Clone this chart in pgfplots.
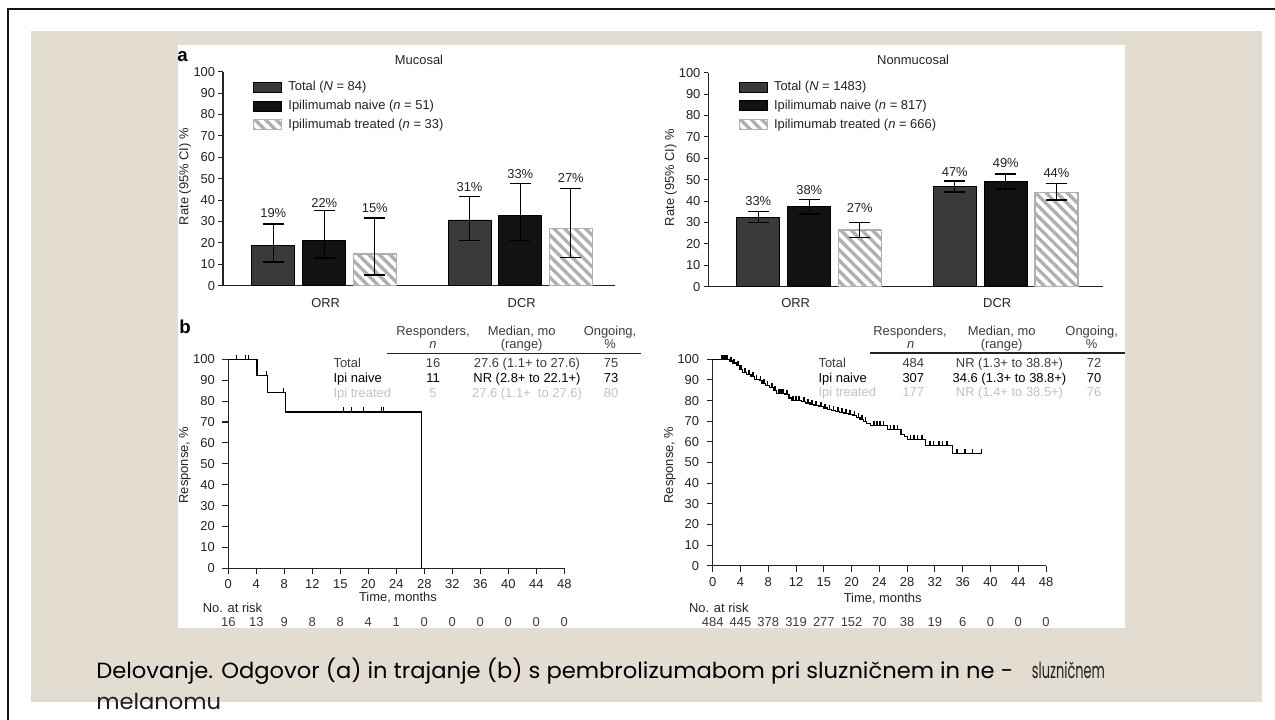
\documentclass[border=0pt]{standalone}
\usepackage{fontspec}
\setmainfont{Liberation Sans}
\newfontfamily\capfont{Poppins}
\usepackage{pgfplots}
\pgfplotsset{compat=1.18}
\usetikzlibrary{patterns.meta}
\definecolor{beige}{RGB}{226,220,209}
\definecolor{tot}{RGB}{58,58,58}
\definecolor{nai}{RGB}{18,18,18}
\definecolor{hatchc}{RGB}{175,175,175}
\definecolor{txt}{RGB}{35,35,35}
\definecolor{hdr}{RGB}{60,60,60}
\definecolor{tgray}{RGB}{195,195,195}
\newcommand{\fs}{\fontsize{9.7}{11.5}\selectfont}
\pgfplotsset{
  hatched/.style={fill=white, draw=hatchc, line width=0.9pt,
     postaction={pattern={Lines[angle=-45,distance=5.6pt,line width=2.5pt]}, pattern color=hatchc}},
  errst/.style={error bars/.cd, y dir=both, y explicit,
     error bar style={line width=1pt, black},
     error mark options={rotate=90, mark size=8pt, line width=1pt, black}},
  barbase/.style={
    scale only axis, height=160.5pt, xmin=0, ymin=0, ymax=100,
    axis x line*=bottom, axis y line*=left,
    axis line style={-, line width=0.8pt, color=txt},
    ytick={0,10,...,100}, xtick=\empty,
    tick align=outside, major tick length=3.5pt,
    y tick style={line width=0.8pt, color=txt},
    tick label style={font=\fs, text=txt},
    yticklabel style={inner sep=0pt, xshift=-2.2pt},
    /pgf/number format/assume math mode=true,
    clip=false,
    legend cell align=left,
    legend style={draw=none, fill=none, inner sep=0pt, anchor=north west, font=\fs,
       row sep=4.8pt, nodes={inner sep=0.4pt, text=txt}},
    legend image code/.code={\draw[##1] (0pt,-3.75pt) rectangle (21pt,3.75pt); \path (25.3pt,0pt);},
    ylabel style={anchor=center, font=\fs, text=txt},
  },
  kmbase/.style={
    scale only axis, xmin=0, xmax=48, ymin=0, ymax=100,
    axis x line*=bottom, axis y line*=left,
    axis line style={-, line width=0.8pt, color=txt},
    xtick={0,4,...,48}, xticklabels={0,4,8,12,15,20,24,28,32,36,40,44,48},
    ytick={0,10,...,100},
    tick align=outside, major tick length=4.5pt,
    tick style={line width=0.8pt, color=txt},
    tick label style={font=\fs, text=txt},
    yticklabel style={inner sep=0pt, xshift=-5.5pt},
    xticklabel style={inner sep=0pt, yshift=-4pt},
    /pgf/number format/assume math mode=true,
    clip=false,
    ylabel style={anchor=center, font=\fs, text=txt},
    xlabel style={anchor=center, font=\fs, text=txt},
  },
}
\newsavebox\capbox
\begin{document}
\sbox\capbox{\capfont\fontsize{16.5}{20}\selectfont Delovanje. Odgovor (a) in trajanje (b) s pembrolizumabom pri sluzničnem in ne -}%
\pgfmathsetmacro\capfac{687.75pt/\wd\capbox}%
\begin{tikzpicture}
\useasboundingbox (0,0) rectangle (956.25pt,540pt);
% ---------- background (pixel coordinates, y downwards)
\begin{scope}[x=0.75pt,y=-0.75pt,yshift=540pt]
  \fill[white] (0,0) rectangle (1275,720);
  \draw[line width=1.9pt, black!92] (8,730) -- (8,9) -- (1290,9);
  \fill[beige] (31,31.5) rectangle (1262,702);
  \fill[white] (178,45.5) rectangle (1125,628);
\end{scope}

% ---------- a: Mucosal
\begin{axis}[barbase, at={(167.25pt,325.725pt)}, anchor=south west, width=294pt, xmax=392,
  ylabel={Rate (95\% CI) \%}, ylabel style={at={(axis description cs:-0.097,0.51)}},
  legend style={at={(axis description cs:0.0758,0.958)}}]
\addlegendimage{fill=tot, draw=black, line width=0.6pt}
\addlegendentry{Total (\textit{N} = 84)}
\addlegendimage{fill=nai, draw=black, line width=0.6pt}
\addlegendentry{Ipilimumab naive (\textit{n} = 51)}
\addlegendimage{hatched}
\addlegendentry{Ipilimumab treated (\textit{n} = 33)}
\addplot[ybar, bar width=43, bar shift=0pt, fill=tot, draw=black, line width=0.6pt, forget plot, errst]
  coordinates {(50.3,18.7) += (0,10.1) -= (0,7.6) (246.5,30.7) += (0,10.9) -= (0,9.7)};
\addplot[ybar, bar width=43, bar shift=0pt, fill=nai, draw=black, line width=0.6pt, forget plot, errst]
  coordinates {(101.3,21.3) += (0,13.7) -= (0,8.3) (297.3,33.0) += (0,14.8) -= (0,12.0)};
\addplot[ybar, bar width=43, bar shift=0pt, hatched, forget plot, errst]
  coordinates {(151.8,14.8) += (0,16.8) -= (0,9.8) (347.8,26.9) += (0,18.6) -= (0,13.7)};
\node[font=\fs, text=txt] at (axis cs:50.3,33.8) {19\%};
\node[font=\fs, text=txt] at (axis cs:101.3,38.5) {22\%};
\node[font=\fs, text=txt] at (axis cs:151.8,36.1) {15\%};
\node[font=\fs, text=txt] at (axis cs:246.5,46.3) {31\%};
\node[font=\fs, text=txt] at (axis cs:297.3,52) {33\%};
\node[font=\fs, text=txt] at (axis cs:347.8,50.2) {27\%};
\node[font=\fs, text=txt] at ([yshift=-13.2pt]axis cs:102.7,0) {ORR};
\node[font=\fs, text=txt] at ([yshift=-13.2pt]axis cs:298.7,0) {DCR};
\node[font=\fs, text=txt] at (rel axis cs:0.5,1.055) {Mucosal};
\end{axis}

% ---------- a: Nonmucosal
\begin{axis}[barbase, at={(531.225pt,325.0pt)}, anchor=south west, width=296pt, xmax=394.7,
  ylabel={Rate (95\% CI) \%}, ylabel style={at={(axis description cs:-0.095,0.51)}},
  legend style={at={(axis description cs:0.076,0.963)}}]
\addlegendimage{fill=tot, draw=black, line width=0.6pt}
\addlegendentry{Total (\textit{N} = 1483)}
\addlegendimage{fill=nai, draw=black, line width=0.6pt}
\addlegendentry{Ipilimumab naive (\textit{n} = 817)}
\addlegendimage{hatched}
\addlegendentry{Ipilimumab treated (\textit{n} = 666)}
\addplot[ybar, bar width=43, bar shift=0pt, fill=tot, draw=black, line width=0.6pt, forget plot, errst]
  coordinates {(50,32.4) += (0,2.6) -= (0,2.3) (246.5,46.7) += (0,2.7) -= (0,2.5)};
\addplot[ybar, bar width=43, bar shift=0pt, fill=nai, draw=black, line width=0.6pt, forget plot, errst]
  coordinates {(101,37.4) += (0,3.4) -= (0,3.4) (297.5,49.1) += (0,3.5) -= (0,3.5)};
\addplot[ybar, bar width=43, bar shift=0pt, hatched, forget plot, errst]
  coordinates {(151.5,26.5) += (0,3.6) -= (0,3.5) (348.2,43.9) += (0,4.2) -= (0,3.4)};
\node[font=\fs, text=txt] at (axis cs:50,40.2) {33\%};
\node[font=\fs, text=txt] at (axis cs:101,45.2) {38\%};
\node[font=\fs, text=txt] at (axis cs:151.5,36.6) {27\%};
\node[font=\fs, text=txt] at (axis cs:246.5,53.7) {47\%};
\node[font=\fs, text=txt] at (axis cs:297.5,57.6) {49\%};
\node[font=\fs, text=txt] at (axis cs:348.2,53) {44\%};
\node[font=\fs, text=txt] at ([yshift=-12.5pt]axis cs:87.4,0) {ORR};
\node[font=\fs, text=txt] at ([yshift=-12.5pt]axis cs:288.9,0) {DCR};
\node[font=\fs, text=txt] at (rel axis cs:0.519,1.06) {Nonmucosal};
\end{axis}

% ---------- b: Mucosal KM
\begin{axis}[kmbase, at={(171.225pt,113.775pt)}, anchor=south west, width=252pt, height=156.75pt,
  ylabel={Response, \%}, ylabel style={at={(axis description cs:-0.129,0.494)}},
  xlabel={Time, months}, xlabel style={at={(axis description cs:0.505,0)}, yshift=-22pt}]
\addplot[const plot, black, line width=0.9pt] coordinates {
  (0,100) (4.1,92.3) (5.6,84.0) (8.2,74.8) (27.6,0)};
\addplot[only marks, mark=|, mark size=1.7pt, mark options={line width=0.9pt, yshift=1.7pt, black}] coordinates {
  (1.2,100) (2.4,100) (2.9,100) (5.5,92.3) (7.9,84.0) (16.4,74.8) (17.6,74.8) (19.3,74.8) (21.9,74.8) (22.2,74.8)};
\node[font=\fs, text=txt, anchor=west] at ([yshift=-29.8pt]axis description cs:-0.09,0) {No. at risk};
\node[font=\fs, text=hdr] at ([yshift=-40.3pt]axis cs:0,0) {16};
\node[font=\fs, text=hdr] at ([yshift=-40.3pt]axis cs:4,0) {13};
\node[font=\fs, text=hdr] at ([yshift=-40.3pt]axis cs:8,0) {9};
\node[font=\fs, text=hdr] at ([yshift=-40.3pt]axis cs:12,0) {8};
\node[font=\fs, text=hdr] at ([yshift=-40.3pt]axis cs:16,0) {8};
\node[font=\fs, text=hdr] at ([yshift=-40.3pt]axis cs:20,0) {4};
\node[font=\fs, text=hdr] at ([yshift=-40.3pt]axis cs:24,0) {1};
\node[font=\fs, text=hdr] at ([yshift=-40.3pt]axis cs:28,0) {0};
\node[font=\fs, text=hdr] at ([yshift=-40.3pt]axis cs:32,0) {0};
\node[font=\fs, text=hdr] at ([yshift=-40.3pt]axis cs:36,0) {0};
\node[font=\fs, text=hdr] at ([yshift=-40.3pt]axis cs:40,0) {0};
\node[font=\fs, text=hdr] at ([yshift=-40.3pt]axis cs:44,0) {0};
\node[font=\fs, text=hdr] at ([yshift=-40.3pt]axis cs:48,0) {0};
\end{axis}

% ---------- b: Nonmucosal KM
\begin{axis}[kmbase, at={(534.525pt,115.725pt)}, anchor=south west, width=250pt, height=154.8pt,
  ylabel={Response, \%}, ylabel style={at={(axis description cs:-0.128,0.488)}},
  xlabel={Time, months}, xlabel style={at={(axis description cs:0.51,0)}, yshift=-24.5pt}]
\addplot[const plot, black, line width=0.9pt] coordinates {
  (0,100) (2.4,99.2) (2.9,98.2) (3.4,96.8) (3.9,95.2) (4.3,93.6) (4.9,92.8) (5.5,91.6)
  (6.0,90.2) (6.7,89.6) (7.1,88.4) (7.6,87.4) (8.2,86.4) (8.7,84.8) (9.2,83.6) (10.4,83.0)
  (11.0,81.2) (11.3,80.0) (12.8,79.4) (13.4,78.8) (14.0,78.2) (14.6,77.6) (15.3,77.0)
  (15.9,76.4) (16.5,75.8) (17.1,75.2) (17.7,74.6) (18.3,74.1) (18.9,73.6) (19.5,73.2)
  (20.2,72.6) (20.7,71.8) (21.2,70.8) (21.7,69.8) (22.2,68.9) (22.7,68.1) (25.2,65.9)
  (27.1,63.6) (27.6,62.4) (28.0,61.0) (30.6,58.4) (34.5,54.2) (38.8,54.2)};
\addplot[only marks, mark=|, mark size=1.8pt, mark options={line width=1.3pt, yshift=1.5pt, black}] coordinates {
  (1.3,100) (1.5,100) (1.7,100) (1.9,100) (2.1,100) (2.6,99.2) (3.1,98.2) (3.6,96.8)
  (4.1,95.2) (4.6,93.6) (5.2,92.8) (5.8,91.6) (6.3,90.2) (6.9,89.6) (7.4,88.4) (7.9,87.4)
  (8.5,86.4) (9.0,84.8) (9.5,83.6) (9.8,83.6) (10.1,83.6) (10.7,83.0) (11.6,80.0) (12.0,80.0)
  (12.4,80.0) (13.1,79.4) (13.7,78.8) (14.3,78.2) (14.9,77.6) (15.6,77.0) (16.2,76.4)
  (16.8,75.8) (17.4,75.2) (18.0,74.6) (18.6,74.1) (19.2,73.6) (19.8,73.2) (20.4,72.6)
  (21.0,71.8) (21.5,70.8) (22.0,69.8) (23.2,68.1) (23.7,68.1) (24.1,68.1) (24.6,68.1)
  (25.6,65.9) (26.1,65.9) (26.6,65.9) (28.5,61.0) (29.0,61.0) (29.5,61.0) (30.1,61.0)
  (31.3,58.4) (31.8,58.4) (32.6,58.4) (33.1,58.4) (33.7,58.4) (35.2,54.2) (36.3,54.2)
  (37.4,54.2) (38.7,54.2)};
\node[font=\fs, text=txt, anchor=west] at ([yshift=-31.7pt]axis description cs:-0.085,0) {No. at risk};
\node[font=\fs, text=hdr] at ([yshift=-42.5pt]axis cs:0,0) {484};
\node[font=\fs, text=hdr] at ([yshift=-42.5pt]axis cs:4,0) {445};
\node[font=\fs, text=hdr] at ([yshift=-42.5pt]axis cs:8,0) {378};
\node[font=\fs, text=hdr] at ([yshift=-42.5pt]axis cs:12,0) {319};
\node[font=\fs, text=hdr] at ([yshift=-42.5pt]axis cs:16,0) {277};
\node[font=\fs, text=hdr] at ([yshift=-42.5pt]axis cs:20,0) {152};
\node[font=\fs, text=hdr] at ([yshift=-42.5pt]axis cs:24,0) {70};
\node[font=\fs, text=hdr] at ([yshift=-42.5pt]axis cs:28,0) {38};
\node[font=\fs, text=hdr] at ([yshift=-42.5pt]axis cs:32,0) {19};
\node[font=\fs, text=hdr] at ([yshift=-42.5pt]axis cs:36,0) {6};
\node[font=\fs, text=hdr] at ([yshift=-42.5pt]axis cs:40,0) {0};
\node[font=\fs, text=hdr] at ([yshift=-42.5pt]axis cs:44,0) {0};
\node[font=\fs, text=hdr] at ([yshift=-42.5pt]axis cs:48,0) {0};
\end{axis}

% ---------- texts: panel letters, tables, caption
\begin{scope}[x=0.75pt,y=-0.75pt,yshift=540pt, t/.style={font=\fs, inner sep=0pt, anchor=base}]
  \node[anchor=base west, inner sep=0pt, font=\fontsize{14}{16}\selectfont\bfseries] at (177,62) {a};
  \node[anchor=base west, inner sep=0pt, font=\fontsize{14}{16}\selectfont\bfseries] at (179,334) {b};
  % left table
  \node[t, text=hdr] at (433,335.5) {Responders,};
  \node[t, text=hdr] at (433,348.5) {\textit{n}};
  \node[t, text=hdr] at (521.7,335.5) {Median, mo};
  \node[t, text=hdr] at (521.7,348.5) {(range)};
  \node[t, text=hdr] at (610,335.5) {Ongoing,};
  \node[t, text=hdr] at (610,348.5) {\%};
  \draw[line width=1.1pt, txt] (386.7,353.3) -- (641,353.3);
  \node[t, anchor=base west, text=hdr] at (333.3,367.8) {Total};
  \node[t, text=hdr] at (433,367.8) {16};
  \node[t, text=hdr] at (527,367.8) {27.6 (1.1+ to 27.6)};
  \node[t, text=hdr] at (611,367.8) {75};
  \node[t, anchor=base west, text=black] at (333.3,382.8) {Ipi naive};
  \node[t, text=black] at (433,382.8) {11};
  \node[t, text=black] at (527,382.8) {NR (2.8+ to 22.1+)};
  \node[t, text=black] at (611,382.8) {73};
  \node[t, anchor=base west, text=tgray] at (333.3,397.8) {Ipi treated};
  \node[t, text=tgray] at (433,397.8) {5};
  \node[t, text=tgray] at (527,397.8) {27.6 (1.1+\ \ to 27.6)};
  \node[t, text=tgray] at (611,397.8) {80};
  % right table
  \node[t, text=hdr] at (910,335.5) {Responders,};
  \node[t, text=hdr] at (910.7,348.5) {\textit{n}};
  \node[t, text=hdr] at (1001.7,335.5) {Median, mo};
  \node[t, text=hdr] at (1001.7,348.5) {(range)};
  \node[t, text=hdr] at (1091.7,335.5) {Ongoing,};
  \node[t, text=hdr] at (1091.7,348.5) {\%};
  \draw[line width=1.1pt, txt] (870,353) -- (1125,353);
  \node[t, anchor=base west, text=hdr] at (818.3,367.2) {Total};
  \node[t, text=hdr] at (913.3,367.2) {484};
  \node[t, text=hdr] at (1009.5,367.2) {NR (1.3+ to 38.8+)};
  \node[t, text=hdr] at (1094,367.2) {72};
  \node[t, anchor=base west, text=black] at (818.3,382.2) {Ipi naive};
  \node[t, text=black] at (913.3,382.2) {307};
  \node[t, text=black] at (1009.5,382.2) {34.6 (1.3+ to 38.8+)};
  \node[t, text=black] at (1094,382.2) {70};
  \node[t, anchor=base west, text=tgray] at (818.3,396.8) {Ipi treated};
  \node[t, text=tgray] at (913.3,396.8) {177};
  \node[t, text=tgray] at (1009.5,396.8) {NR (1.4+ to 38.5+)};
  \node[t, text=tgray] at (1094,396.8) {76};
  % caption
  \node[anchor=base west, inner sep=0pt, text=black!88] at (96,679) {\scalebox{\capfac}[1]{\usebox\capbox}};
  \node[anchor=base west, inner sep=0pt, text=black!88] at (1031.7,679)
     {\resizebox{54.75pt}{\height}{\capfont\fontsize{16.5}{20}\selectfont sluzničnem}};
  \node[anchor=base west, inner sep=0pt, text=black!88] at (96,710)
     {\scalebox{\capfac}[1]{\capfont\fontsize{16.5}{20}\selectfont melanomu}};
\end{scope}
\end{tikzpicture}
\end{document}
